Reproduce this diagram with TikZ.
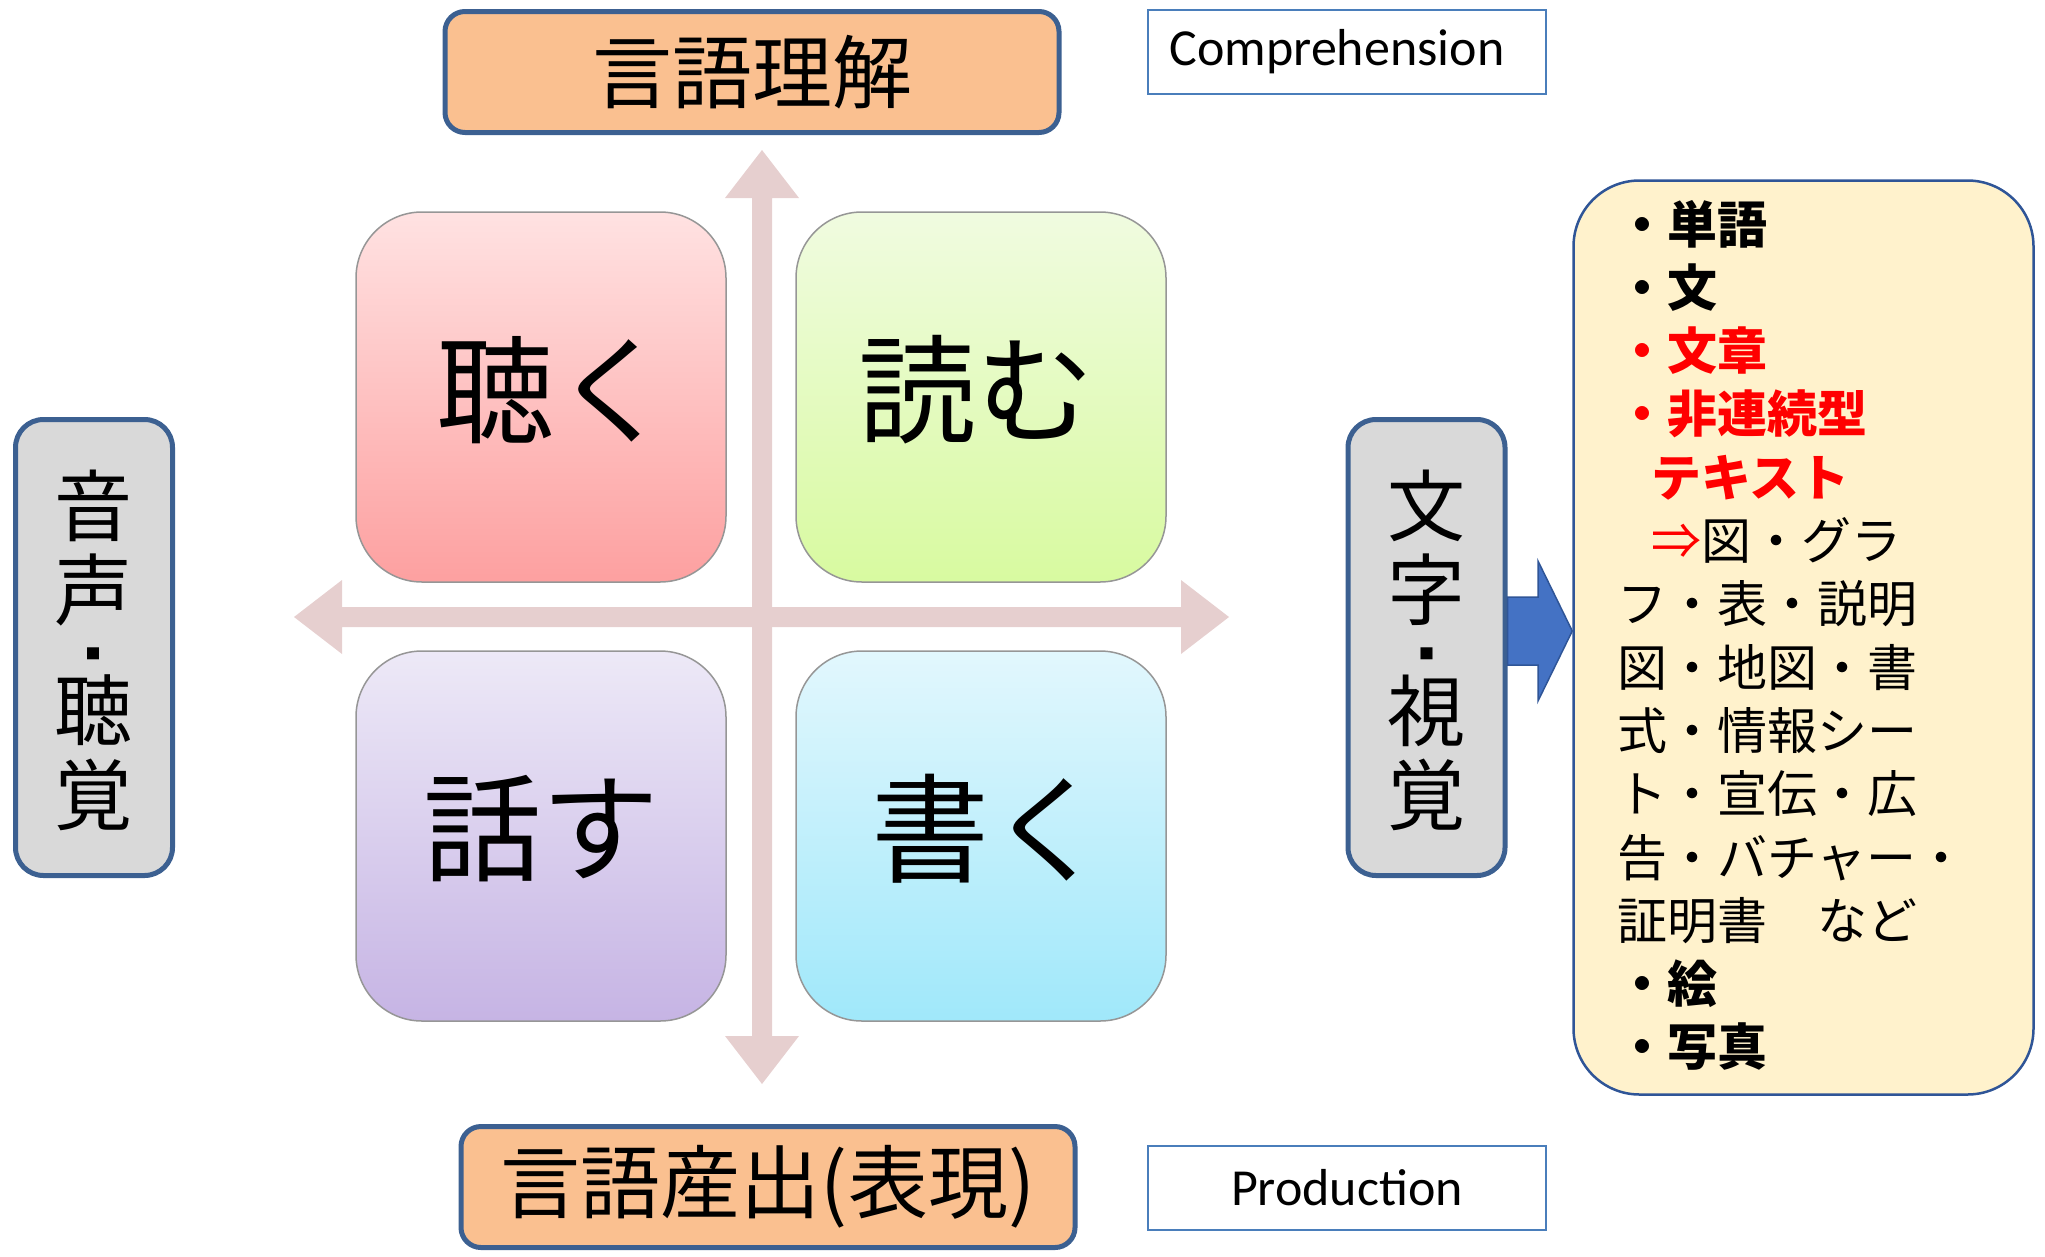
\documentclass[tikz,border=0pt]{standalone}
\usepackage{fontspec}
\setmainfont{Noto Sans CJK JP}
\newfontfamily\latfont{Carlito}
\usetikzlibrary{calc}
\definecolor{frame}{RGB}{60,96,145}
\definecolor{peach}{RGB}{250,192,144}
\definecolor{grayfill}{RGB}{217,217,217}
\definecolor{listfill}{RGB}{255,242,204}
\definecolor{listframe}{RGB}{47,85,151}
\definecolor{labframe}{RGB}{74,126,187}
\definecolor{axiscol}{RGB}{230,207,207}
\definecolor{bluearrow}{RGB}{68,114,196}
\definecolor{bluearrowframe}{RGB}{47,85,151}
\definecolor{qframe}{RGB}{150,150,150}
\definecolor{redtop}{RGB}{255,226,226}
\definecolor{redbot}{RGB}{253,160,160}
\definecolor{greentop}{RGB}{240,251,224}
\definecolor{greenbot}{RGB}{216,250,160}
\definecolor{violettop}{RGB}{237,233,247}
\definecolor{violetbot}{RGB}{198,180,228}
\definecolor{cyantop}{RGB}{226,247,253}
\definecolor{cyanbot}{RGB}{160,232,250}
\begin{document}
\begin{tikzpicture}[x=1pt,y=-1pt,
  titlebox/.style={draw=frame, line width=5pt, fill=peach, rounded corners=20pt,
    minimum width=614pt, minimum height=121pt, inner sep=0pt,
    font=\fontsize{80}{96}\selectfont},
  sidebox/.style={draw=frame, line width=5pt, fill=grayfill, rounded corners=28pt,
    minimum width=157pt, minimum height=456pt, inner sep=0pt},
  sidechar/.style={inner sep=0pt, font=\fontsize{78}{84}\selectfont},
  sidedot/.style={inner sep=0pt, font=\fontsize{15}{18}\selectfont},
  quadbox/.style={draw=qframe, line width=1.5pt, rounded corners=66pt,
    minimum width=370pt, minimum height=370pt, inner sep=0pt},
  quadtext/.style={inner sep=0pt, font=\fontsize{118}{130}\selectfont},
  engbox/.style={draw=labframe, line width=2pt, minimum width=398pt,
    minimum height=84pt, inner sep=0pt},
  engtext/.style={inner sep=0pt, font=\latfont\fontsize{52}{60}\selectfont},
  listbox/.style={draw=listframe, line width=2.5pt, fill=listfill, rounded corners=66pt,
    minimum width=460pt, minimum height=914pt, inner sep=0pt},
  listline/.style={anchor=base west, inner sep=0pt, font=\fontsize{50}{60}\selectfont},
  axisarrow/.style={fill=axiscol, draw=none},
  blockarrow/.style={fill=bluearrow, draw=bluearrowframe, line width=1.5pt, line join=miter}
]
\path[use as bounding box] (0,0) rectangle (2045,1256);

% axes
\fill[axisarrow] (294,617) -- (342,580) -- (342,607) -- (1181,607) -- (1181,580)
  -- (1229,617) -- (1181,654) -- (1181,627) -- (342,627) -- (342,654) -- cycle;
\fill[axisarrow] (762,150) -- (799,198) -- (772,198) -- (772,1036) -- (799,1036)
  -- (762,1084) -- (725,1036) -- (752,1036) -- (752,198) -- (725,198) -- cycle;

% quadrants
\node[quadbox, top color=redtop, bottom color=redbot] (listen) at (541,397) {};
\node[quadbox, top color=greentop, bottom color=greenbot] (read) at (981,397) {};
\node[quadbox, top color=violettop, bottom color=violetbot] (speak) at (541,836) {};
\node[quadbox, top color=cyantop, bottom color=cyanbot] (write) at (981,836) {};
\node[quadtext] (listent) at ($(listen.center)+(13,-7)$) {聴く};
\node[quadtext] (readt) at ($(read.center)+(-5,-7)$) {読む};
\node[quadtext] (speakt) at ($(speak.center)+(0,-7)$) {話す};
\node[quadtext] (writet) at ($(write.center)+(8,-7)$) {書く};

% titles
\node[titlebox] (comp) at (752,72) {言語理解};
\node[titlebox] (prod) at (768,1187) {言語産出(表現)};

\node[engbox] (compen) at (1347,52) {};
\node[engtext] (compent) at ($(compen.center)+(-10,0)$) {Comprehension};
\node[engbox] (proden) at (1347,1188) {};
\node[engtext] (prodent) at (proden.center) {Production};

% side boxes
\node[sidebox] (aural) at (94,647.5) {};
\node[sidechar] (a1) at ($(aural.center)+(-1,-142)$) {音};
\node[sidechar] (a2) at ($(aural.center)+(-1,-58)$) {声};
\node[sidedot] (a3) at ($(aural.center)+(-1,6)$) {■};
\node[sidechar] (a4) at ($(aural.center)+(-1,63)$) {聴};
\node[sidechar] (a5) at ($(aural.center)+(-1,147)$) {覚};
\node[sidebox] (visual) at (1426.5,647.5) {};
\node[sidechar] (v1) at ($(visual.center)+(0,-142)$) {文};
\node[sidechar] (v2) at ($(visual.center)+(0,-58)$) {字};
\node[sidedot] (v3) at ($(visual.center)+(0,6)$) {■};
\node[sidechar] (v4) at ($(visual.center)+(0,63)$) {視};
\node[sidechar] (v5) at ($(visual.center)+(0,147)$) {覚};

% list box
\node[listbox] (list) at (1803.5,637.5) {};

% block arrow from visual box to list
\draw[blockarrow] ($(visual.east)+(0,-50.5)$) -- (1538,597) -- (1538,561)
  -- ($(list.west)+(0,-6.5)$) -- (1538,701) -- (1538,665) -- ($(visual.east)+(0,17.5)$) -- cycle;

% list text
\node[listline] (l0) at (1617,243) {\bfseries ・単語};
\node[listline] (l1) at (1617,306.3) {\bfseries ・文};
\node[listline] (l2) at (1617,369.6) {\bfseries\color{red}・文章};
\node[listline] (l3) at (1617,432.9) {\bfseries\color{red}・非連続型};
\node[listline] (l4) at (1617,496.2) {\hspace{34pt}{\bfseries\color{red}テキスト}};
\node[listline] (l5) at (1617,559.5) {\hspace{34pt}{\color{red}⇒}図・グラ};
\node[listline] (l6) at (1617,622.8) {フ・表・説明};
\node[listline] (l7) at (1617,686.1) {図・地図・書};
\node[listline] (l8) at (1617,749.4) {式・情報シー};
\node[listline] (l9) at (1617,812.7) {ト・宣伝・広};
\node[listline] (l10) at (1617,876) {告・バチャー・};
\node[listline] (l11) at (1617,939.3) {証明書　など};
\node[listline] (l12) at (1617,1002.6) {\bfseries ・絵};
\node[listline] (l13) at (1617,1065.9) {\bfseries ・写真};
\end{tikzpicture}
\end{document}
